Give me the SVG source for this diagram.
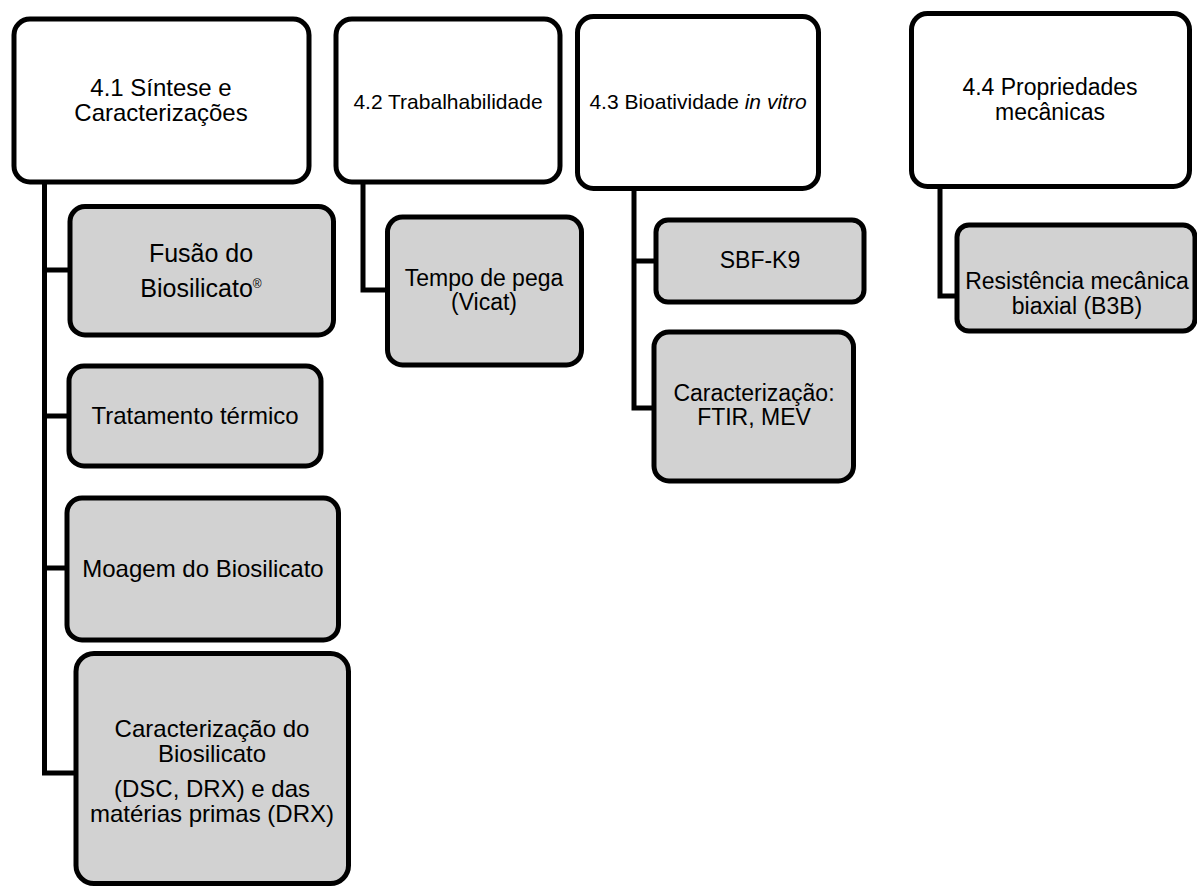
<svg xmlns="http://www.w3.org/2000/svg" width="1197" height="887" viewBox="0 0 1197 887">
<style>
.top{fill:#ffffff;stroke:#000;stroke-width:5}
.sub{fill:#d2d2d2;stroke:#000;stroke-width:5}
.t{font-family:"Liberation Sans",Arial,sans-serif;fill:#000;text-anchor:middle}
.conn{fill:none;stroke:#000;stroke-width:5;stroke-linejoin:miter}
</style>
<rect width="1197" height="887" fill="#ffffff"/>
<g id="connectors">
<path class="conn" d="M44.5,182 V773 H76 M44.5,270 H70 M44.5,416 H69 M44.5,568 H67"/>
<path class="conn" d="M363,182 V290 H387.5"/>
<path class="conn" d="M634,188 V408 H654 M634,261 H656"/>
<path class="conn" d="M940,186 V296 H957"/>
</g>
<g id="n41">
<rect class="top" x="14" y="19" width="295" height="163" rx="16"/>
<text class="t" font-size="24" x="161" y="96">4.1 Síntese e</text>
<text class="t" font-size="24" x="161" y="121">Caracterizações</text>
</g>
<g id="n42">
<rect class="top" x="336" y="19" width="224" height="163" rx="16"/>
<text class="t" font-size="21" x="448" y="109">4.2 Trabalhabilidade</text>
</g>
<g id="n43">
<rect class="top" x="577.5" y="16.5" width="241" height="172" rx="16"/>
<text class="t" font-size="21" x="698" y="109">4.3 Bioatividade <tspan font-style="italic">in vitro</tspan></text>
</g>
<g id="n44">
<rect class="top" x="911.5" y="13.5" width="278" height="173" rx="16"/>
<text class="t" font-size="23" x="1050" y="95">4.4 Propriedades</text>
<text class="t" font-size="23" x="1050" y="120">mecânicas</text>
</g>
<g id="fusao">
<rect class="sub" x="70" y="206.5" width="263.5" height="128.5" rx="15"/>
<text class="t" font-size="25" x="201" y="262">Fusão do</text>
<text class="t" font-size="25" x="201" y="297">Biosilicato<tspan font-size="12" dy="-9">®</tspan></text>
</g>
<g id="tratamento">
<rect class="sub" x="69" y="366" width="252" height="100" rx="15"/>
<text class="t" font-size="24" x="195" y="424">Tratamento térmico</text>
</g>
<g id="moagem">
<rect class="sub" x="67" y="498" width="271.5" height="142" rx="15"/>
<text class="t" font-size="24" x="203" y="577">Moagem do Biosilicato</text>
</g>
<g id="caracterizacao">
<rect class="sub" x="76" y="653.5" width="272.5" height="230" rx="18"/>
<text class="t" font-size="24" x="212" y="737">Caracterização do</text>
<text class="t" font-size="24" x="212" y="762">Biosilicato</text>
<text class="t" font-size="24" x="212" y="797">(DSC, DRX) e das</text>
<text class="t" font-size="24" x="212" y="822">matérias primas (DRX)</text>
</g>
<g id="tempo">
<rect class="sub" x="387.5" y="217" width="194" height="148" rx="15"/>
<text class="t" font-size="23" x="484" y="286">Tempo de pega</text>
<text class="t" font-size="23" x="484" y="310">(Vicat)</text>
</g>
<g id="sbf">
<rect class="sub" x="656" y="220" width="208" height="82" rx="12"/>
<text class="t" font-size="23" x="760" y="268">SBF-K9</text>
</g>
<g id="ftir">
<rect class="sub" x="654" y="332" width="199.5" height="149" rx="15"/>
<text class="t" font-size="23" x="754" y="401">Caracterização:</text>
<text class="t" font-size="23" x="754" y="425">FTIR, MEV</text>
</g>
<g id="resistencia">
<rect class="sub" x="957" y="225" width="238" height="106" rx="12"/>
<text class="t" font-size="23" x="1077" y="289">Resistência mecânica</text>
<text class="t" font-size="23" x="1077" y="314">biaxial (B3B)</text>
</g>
</svg>
